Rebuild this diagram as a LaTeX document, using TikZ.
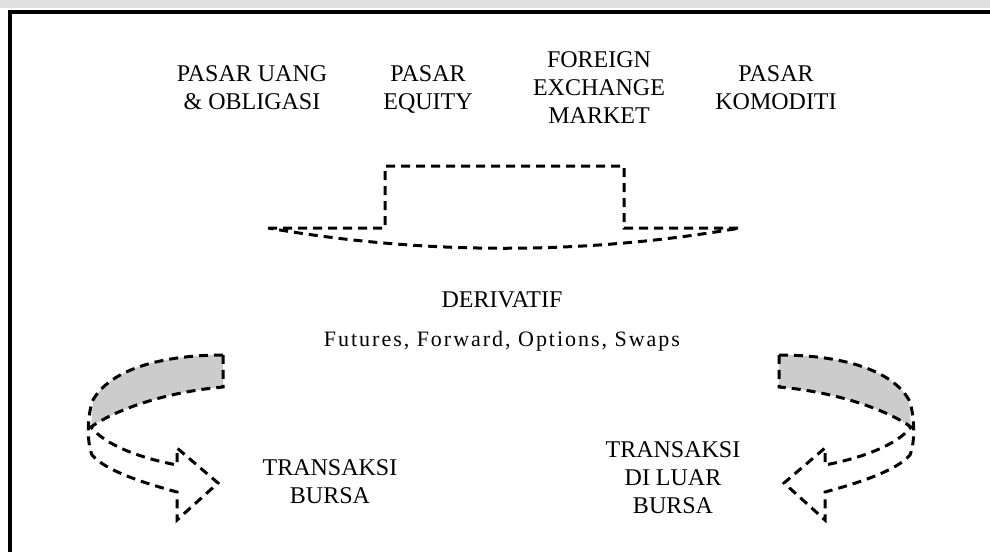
\documentclass[tikz,border=0pt]{standalone}
\usepackage{fontspec}
\setmainfont{Liberation Serif}
\newfontfamily\spaced[LetterSpace=9]{Liberation Serif}
\begin{document}
\begin{tikzpicture}[x=1pt,y=-1pt,
    dsh/.style={line width=3pt,dash pattern=on 9pt off 6pt},
    lbl/.style={inner sep=0pt,align=center,font=\fontsize{24}{28}\selectfont}]
  %\draw[help lines,step=50](0,0) grid (990,552);
  \useasboundingbox (0,0) rectangle (990,552);
  \fill[black!12] (0,0) rectangle (990,8);
  \draw[line width=4pt] (10,552) -- (10,12) -- (990,12);

  \node[lbl] (uang) at (252,87.5) {PASAR UANG\\\& OBLIGASI};
  \node[lbl] (equity) at (428,89.5) {PASAR\\EQUITY};
  \node[lbl] (forex) at (599,87.5) {FOREIGN\\EXCHANGE\\MARKET};
  \node[lbl] (komoditi) at (776,87.5) {PASAR\\KOMODITI};

  \draw[dsh] (268,228) -- (385,228) -- (385,166) -- (624,166) -- (624,228) -- (740,228)
     .. controls (583,255) and (425,255) .. cycle;

  \node[lbl] (derivatif) at (502,300) {DERIVATIF};
  \node[lbl,font=\spaced\fontsize{22}{24}\selectfont,anchor=base] (jenis) at (502,346) {Futures, Forward, Options, Swaps};

  \node[lbl] (bursa) at (330,481.5) {TRANSAKSI\\BURSA};
  \node[lbl] (otc) at (673,478) {TRANSAKSI\\DI LUAR\\BURSA};

  \foreach \s/\dx in {1/0,-1/1002}{
    \begin{scope}[shift={(\dx,0)},xscale=\s]
      \fill[black!20] (223,355) .. controls (160,355) and (110,370) .. (93,400)
         -- (91,427) .. controls (115,410) and (165,392) .. (223,387) -- cycle;
      \draw[dsh] (223,355) .. controls (160,355) and (110,370) .. (93,400)
         .. controls (88,412) and (86,440) .. (92,455)
         .. controls (105,470) and (140,482) .. (177,492)
         -- (177,520) -- (218,483) -- (177,448) -- (177,465)
         .. controls (140,458) and (105,445) .. (91,427)
         .. controls (115,410) and (165,392) .. (223,387) -- cycle;
    \end{scope}
  }
\end{tikzpicture}
\end{document}
